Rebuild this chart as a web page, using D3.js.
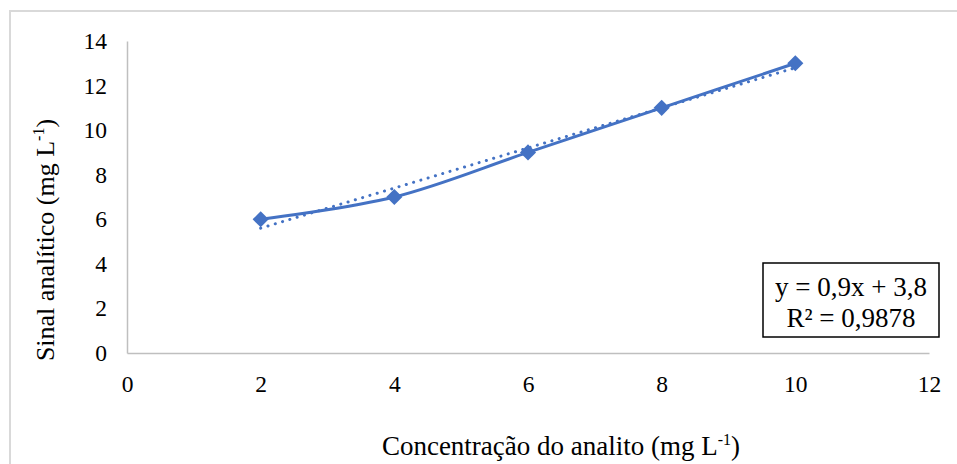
<!DOCTYPE html>
<html>
<head>
<meta charset="utf-8">
<script src="https://cdn.jsdelivr.net/npm/d3@7"></script>
<style>
  html, body { margin: 0; padding: 0; background: #fff; }
  svg { display: block; }
  svg text { font-family: "Liberation Serif", "Times New Roman", Times, serif !important; }
</style>
</head>
<body>
<svg id="chart" width="957" height="464"></svg>
<script>
// Calibration data
const concentration = [2, 4, 6, 8, 10];
const signal = [6, 7, 9, 11, 13];
const xTicks = [0, 2, 4, 6, 8, 10, 12];
const yTicks = [0, 2, 4, 6, 8, 10, 12, 14];
const equationLines = ["y = 0,9x + 3,8", "R² = 0,9878"];

const svg = d3.select("#chart");
const blue = "#4472C4";

// Chart frame
svg.append("rect")
  .attr("x", 10).attr("y", 11)
  .attr("width", 960).attr("height", 470)
  .attr("fill", "none").attr("stroke", "#d9d9d9").attr("stroke-width", 2);

const x = d3.scaleLinear().domain([0, 12]).range([127, 929]);
const y = d3.scaleLinear().domain([0, 14]).range([353, 41]);

// Axes
const xAxis = svg.append("g").attr("transform", `translate(0,${y(0)})`)
  .call(d3.axisBottom(x).tickValues(xTicks).tickSize(0).tickPadding(22).tickFormat(d3.format("d")));
const yAxis = svg.append("g").attr("transform", `translate(${x(0)},0)`)
  .call(d3.axisLeft(y).tickValues(yTicks).tickSize(0).tickPadding(20).tickFormat(d3.format("d")));

[xAxis, yAxis].forEach(g => {
  g.attr("font-family", null);
  g.select(".domain").attr("stroke", "#bfbfbf").attr("stroke-width", 1.5);
  g.selectAll("text").attr("font-size", 23.5).attr("fill", "#000");
});

const pts = concentration.map((c, i) => [c, signal[i]]);

// Least-squares trendline
const mx = d3.mean(concentration), my = d3.mean(signal);
const slope = d3.sum(pts, p => (p[0] - mx) * (p[1] - my)) / d3.sum(pts, p => (p[0] - mx) ** 2);
const intercept = my - slope * mx;
const xr = d3.extent(concentration);

svg.append("line")
  .attr("x1", x(xr[0])).attr("y1", y(slope * xr[0] + intercept))
  .attr("x2", x(xr[1])).attr("y2", y(slope * xr[1] + intercept))
  .attr("stroke", blue).attr("stroke-width", 3)
  .attr("stroke-dasharray", "0.1 7.5").attr("stroke-linecap", "round");

// Smoothed series line
const line = d3.line().x(d => x(d[0])).y(d => y(d[1])).curve(d3.curveCatmullRom.alpha(0.5));
svg.append("path").datum(pts)
  .attr("d", line)
  .attr("fill", "none").attr("stroke", blue).attr("stroke-width", 3);

// Diamond markers
svg.selectAll(".marker").data(pts).join("path")
  .attr("class", "marker")
  .attr("transform", d => `translate(${x(d[0])},${y(d[1])}) rotate(45)`)
  .attr("d", d3.symbol().type(d3.symbolSquare).size(130))
  .attr("fill", blue);

// Equation box
svg.append("rect")
  .attr("x", 763).attr("y", 263).attr("width", 176).attr("height", 74)
  .attr("fill", "#fff").attr("stroke", "#000").attr("stroke-width", 1.5);
svg.selectAll(".eq").data(equationLines).join("text")
  .attr("class", "eq")
  .attr("x", 851).attr("y", (d, i) => 296 + i * 31)
  .attr("text-anchor", "middle").attr("font-size", 27).attr("fill", "#000")
  .text(d => d);

// Axis titles
const xt = svg.append("text")
  .attr("x", 561).attr("y", 455).attr("text-anchor", "middle")
  .attr("font-size", 27).attr("fill", "#000");
xt.append("tspan").text("Concentração do analito (mg L");
xt.append("tspan").attr("font-size", 16).attr("dy", -10).text("-1");
xt.append("tspan").attr("dy", 10).text(")");

const yt = svg.append("text")
  .attr("transform", "translate(54,240) rotate(-90)")
  .attr("text-anchor", "middle").attr("font-size", 26).attr("fill", "#000");
yt.append("tspan").text("Sinal analítico (mg L");
yt.append("tspan").attr("font-size", 16).attr("dy", -10).text("-1");
yt.append("tspan").attr("dy", 10).text(")");
</script>
</body>
</html>
